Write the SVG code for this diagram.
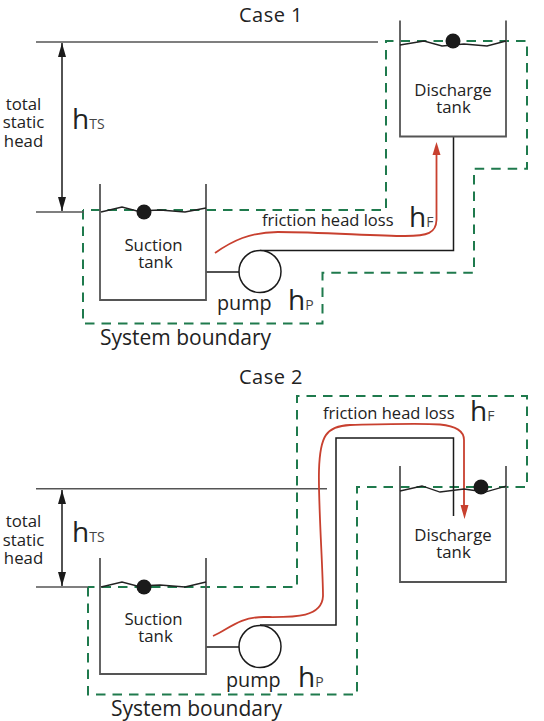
<svg xmlns="http://www.w3.org/2000/svg" width="544" height="721" viewBox="0 0 544 721">
<style>
text{font-family:"Open Sans","Noto Sans","Liberation Sans",sans-serif;fill:#222}
.c{text-anchor:middle}
.lab{font-size:16.800px}
.tk{font-size:16.800px}
.fr{font-size:16.500px}
.pu{font-size:19.800px}
.ti{font-size:21px}
.hd{font-size:20px;letter-spacing:.5px}
.big{font-size:28px}.sub{font-size:14px;fill:#444}
.tank{fill:none;stroke:#555;stroke-width:1.8}
.thin{fill:none;stroke:#1a1a1a;stroke-width:1.5}
.level{fill:none;stroke:#555;stroke-width:1.6}
.wave{fill:none;stroke:#222;stroke-width:1.3}
.bnd{fill:none;stroke:#1f7a4d;stroke-width:2;stroke-dasharray:9.500 7}
.red{fill:none;stroke:#c8402f;stroke-width:1.8}
.dim{fill:none;stroke:#1a1a1a;stroke-width:1.5}
</style>
<defs>
<marker id="blk" viewBox="0 0 14 8" refX="14" refY="4" markerWidth="14" markerHeight="8" markerUnits="userSpaceOnUse" orient="auto-start-reverse"><path d="M0 0L14 4L0 8Z" fill="#1a1a1a"/></marker>
</defs>
<g id="boundaries">
<path class="bnd" d="M83 210V323.500H322.500V272.800H474V168.700H527V41H386V210H83"/>
<path class="bnd" d="M88 587V694.500H357V487H527V396H297V587H88"/>
</g>
<g id="connectors">
<path class="level" d="M36 42H378M36 212H84M36 488.700H327M36 587H88"/>
<path class="dim" d="M62 43V211" marker-start="url(#blk)" marker-end="url(#blk)"/>
<path class="dim" d="M62 490V586" marker-start="url(#blk)" marker-end="url(#blk)"/>
<path class="thin" d="M206 272H239M260 250.500H453.500V137"/>
<path class="thin" d="M206 647H239M260 625H336V438H453.500V516"/>
<path class="red" d="M215 253C232 241 250 232 278 232C320 232 375 236 405 236C428 236 436 233 436.500 220V155"/>
<path fill="#c8402f" d="M436.500 142L440.500 155H432.500Z"/>
<path class="red" d="M213 636C228 630 238 617 264 617C290 617 322 619 323 596C323 570 318 500 319 470C320 436 326 426 350 425C390 424 420 423 440 424.500C456 426 464 431 464 440V506"/>
<path fill="#c8402f" d="M464.500 519L460.500 505H468.500Z"/>
</g>
<g id="case1-suction-tank">
<path class="tank" d="M100 184V300H206V184"/>
<path class="wave" d="M101 212L122 207L137 211L160 210L185 212L206 208"/>
<circle cx="144" cy="212" r="7.500" fill="#1a1a1a"/>
<text class="c tk"><tspan x="153.500" y="251">Suction</tspan><tspan x="155.500" y="268">tank</tspan></text>
</g>
<g id="case1-discharge-tank">
<path class="tank" d="M400 20.500V136.500H506V20.500"/>
<path class="wave" d="M400 45L424 41L442 46L464 44L487 46L506 41"/>
<circle cx="453" cy="41" r="7.500" fill="#1a1a1a"/>
<text class="c tk"><tspan x="453" y="96">Discharge</tspan><tspan x="453.500" y="113">tank</tspan></text>
</g>
<g id="case1-pump">
<circle cx="260" cy="271.500" r="21" fill="#fff" stroke="#1a1a1a" stroke-width="1.500"/>
<text class="pu" x="217" y="310">pump</text>
</g>
<g id="case1-labels">
<text class="c hd" x="271" y="21.500">Case 1</text>
<text class="c lab"><tspan x="23.500" y="109.500">total</tspan><tspan x="23.500" y="128">static</tspan><tspan x="23.500" y="146.500">head</tspan></text>
<text x="72" y="129"><tspan class="big">h</tspan><tspan class="sub">TS</tspan></text>
<text class="fr" x="262" y="226">friction head loss</text>
<text x="409" y="227"><tspan class="big">h</tspan><tspan class="sub">F</tspan></text>
<text x="288" y="310"><tspan class="big">h</tspan><tspan class="sub">P</tspan></text>
<text class="ti" x="100" y="345">System boundary</text>
</g>
<g id="case2-suction-tank">
<path class="tank" d="M100 558V674H206V558"/>
<path class="wave" d="M101 587L122 582L137 586L160 585L185 587L206 582"/>
<circle cx="144" cy="587" r="7.500" fill="#1a1a1a"/>
<text class="c tk"><tspan x="153.500" y="625">Suction</tspan><tspan x="155.500" y="642">tank</tspan></text>
</g>
<g id="case2-discharge-tank">
<path class="tank" d="M400 466V582H506V466"/>
<path class="wave" d="M400 491L422 486L440 492L464 489L485 492L506 486"/>
<circle cx="481" cy="487" r="7.500" fill="#1a1a1a"/>
<text class="c tk"><tspan x="453" y="541">Discharge</tspan><tspan x="453.500" y="558">tank</tspan></text>
</g>
<g id="case2-pump">
<circle cx="260" cy="646.500" r="21" fill="#fff" stroke="#1a1a1a" stroke-width="1.500"/>
<text class="pu" x="226" y="687">pump</text>
</g>
<g id="case2-labels">
<text class="c hd" x="271" y="383.500">Case 2</text>
<text class="c lab"><tspan x="23.500" y="527">total</tspan><tspan x="23.500" y="546">static</tspan><tspan x="23.500" y="564">head</tspan></text>
<text x="72" y="542"><tspan class="big">h</tspan><tspan class="sub">TS</tspan></text>
<text class="fr" x="323" y="419">friction head loss</text>
<text x="470" y="421"><tspan class="big">h</tspan><tspan class="sub">F</tspan></text>
<text x="298" y="687"><tspan class="big">h</tspan><tspan class="sub">P</tspan></text>
<text class="ti" x="111" y="716">System boundary</text>
</g>
</svg>
